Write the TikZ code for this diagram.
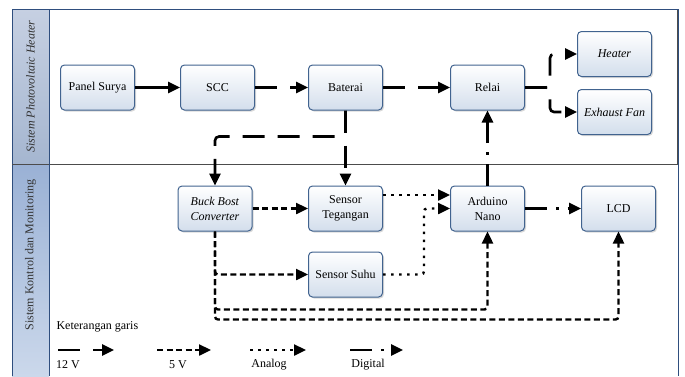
\documentclass[tikz,border=0pt]{standalone}
\usepackage{fontspec}
\setmainfont{Liberation Serif}
\usepackage{xcolor}
\usepackage{tikz}
\usetikzlibrary{arrows.meta,positioning,shadows}
\definecolor{boxline}{HTML}{41638F}
\definecolor{boxfill}{HTML}{D3DEEC}
\definecolor{frameblue}{HTML}{2F4E7E}
\definecolor{bandtopa}{HTML}{C6D0E2}
\definecolor{bandtopb}{HTML}{A5B6D0}
\definecolor{bandlowa}{HTML}{9AB1D5}
\definecolor{bandlowb}{HTML}{CBD8EB}

\begin{document}
\begin{tikzpicture}[
      x=1pt,y=-1pt,
      font=\fontsize{12}{15}\selectfont,
      mybox/.style={
         rectangle,
         rounded corners=4pt,
         draw=boxline,
         line width=1pt,
         top color=white,
         bottom color=boxfill,
         drop shadow={shadow xshift=1.5pt,shadow yshift=-1.5pt,opacity=0.3},
         align=center,
         inner sep=1pt,
         minimum width=74pt,
         minimum height=45pt},
      mytip/.style={-{Triangle[length=12pt,width=11pt]}},
      v12/.style={mytip,line width=2.6pt,dash pattern=on 22pt off 13pt,rounded corners=4pt},
      v5/.style={mytip,line width=2.4pt,dash pattern=on 6pt off 3.5pt,rounded corners=3pt},
      analog/.style={mytip,line width=2.4pt,dash pattern=on 2.5pt off 5.5pt,rounded corners=3pt},
      digital/.style={mytip,line width=2.6pt,dash pattern=on 22pt off 9pt on 2.5pt off 9pt},
      node distance=75pt and 45pt
      ]
\useasboundingbox (0,0) rectangle (685,376);

% frame and side bands
\shade[top color=bandtopa,bottom color=bandtopb] (12,9) rectangle (49,164);
\shade[top color=bandlowa,bottom color=bandlowb] (12,164) rectangle (49,376);
\draw[frameblue,line width=1pt] (12,376) -- (12,9) -- (678,9) -- (678,376);
\draw[black!70,line width=1pt] (12,164) -- (677,164) -- (677,10);
\draw[frameblue,line width=0.8pt] (49,9) -- (49,376);
\node[rotate=90,text=black!80] (lbltop) at (30.5,86.5) {\textit{Sistem Photovoltaic Heater}};
\node[rotate=90,text=black!80] (lblbot) at (30.5,255)  {Sistem Kontrol dan Monitoring};

\node[mybox] (ps) at (97.5,87.5) {Panel Surya};
\node[mybox,right=of ps   ] (scc)   {SCC};
\node[mybox,right=53pt of scc] (bat)   {Baterai};
\node[mybox,right=67pt of bat] (relai) {Relai};
\node[mybox,right=52pt of relai,yshift=33.5pt ] (heater) {\textit{Heater}};
\node[mybox,right=52pt of relai,yshift=-24.5pt] (fan)    {\textit{Exhaust Fan}};

\node[mybox,below=of scc,xshift=-2.5pt] (buck) {\textit{Buck Bost}\\\textit{Converter}};
\node[mybox,below=of bat     ] (steg) {Sensor\\Tegangan};
\node[mybox,below=20pt of steg] (suhu) {Sensor Suhu};
\node[mybox,below=of relai   ] (ard)  {Arduino\\Nano};
\node[mybox,right=56pt of ard] (lcd)  {LCD};

% 12 V
\draw[mytip,line width=2.6pt] (ps) -- (scc);
\foreach \i/\j in {scc/bat, bat/relai, bat/steg}
       \draw[v12] (\i) -- (\j);
\draw[v12] (bat.south) -- ++(0,26) -| (buck.north);
\draw[v12] (relai.east) -- ++(25,0) |- (heater.west);
\draw[v12] (relai.east) -- ++(25,0) |- (fan.west);

% 5 V
\draw[v5] (buck) -- (steg);
\draw[v5] (buck.south) |- (suhu.west);
\draw[v5] (buck.south) -- ++(0,78) -| (ard.south);
\draw[v5] (buck.south) -- ++(0,88) -| (lcd.south);

% analog and digital
\draw[analog] ([yshift=13.5pt]steg.east) -- ([yshift=13.5pt]ard.west);
\draw[analog] (suhu.east) -- ++(41,0) |- (ard.west);
\draw[digital] (ard) -- (relai);
\draw[digital] (ard) -- (lcd);

% legend
\node[anchor=west] (ket) at (53,327) {Keterangan garis};
\foreach \s/\xa/\xb/\lbl/\xl in {%
      v12/58/114/12 V/68,
      v5/157/211/5 V/178,
      analog/250/306/Analog/269,
      digital/350/403/Digital/368}{
   \coordinate (\s-a) at (\xa,350);
   \coordinate (\s-b) at (\xb,350);
   \draw[\s] (\s-a) -- (\s-b);
   \node (\s-lbl) at (\xl,365) {\lbl};
}

\end{tikzpicture}
\end{document}
